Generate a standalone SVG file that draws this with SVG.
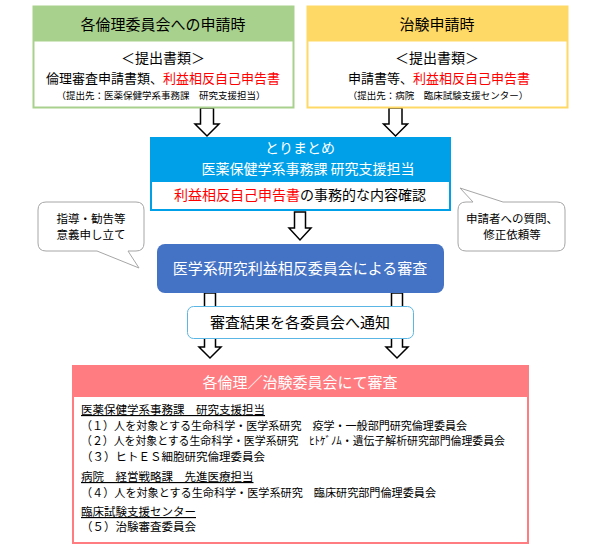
<svg xmlns="http://www.w3.org/2000/svg" width="600" height="553" viewBox="0 0 600 553">
<style>
text{font-family:"Noto Sans CJK JP","Noto Sans CJK SC",sans-serif;fill:#000}
.c{text-anchor:middle}
.w{fill:#fff}
.r{fill:#ff0000}
.h{font-size:15px}
.arrow{fill:#fff;stroke:#000;stroke-width:1.5;stroke-linejoin:miter}
.bub{fill:#fff;stroke:#a6a6a6;stroke-width:1}
.body{font-size:11.5px}
.u{text-decoration:underline}
</style>
<rect width="600" height="553" fill="#fff"/>
<g id="connectors">
<path class="arrow" d="M200.5 108H213.5V124H219L207 136L195 124H200.5Z"/>
<path class="arrow" d="M389 108H402V124H407.5L395.5 136L383.5 124H389Z"/>
<path class="arrow" d="M294.5 212H305.5V228H311L300 240L289 228H294.5Z"/>
<path class="arrow" d="M204.5 293H215.5V347H221L210 358L199 347H204.5Z"/>
<path class="arrow" d="M391.5 293H402.5V347H408L397 358L386 347H391.5Z"/>
</g>
<g id="node-ethics">
<rect x="33.5" y="6.5" width="260" height="101" fill="#fff" stroke="#a9d18e" stroke-width="2"/>
<rect x="33.5" y="6.5" width="260" height="35" fill="#a9d18e"/>
<text class="c h" x="163" y="29.5">各倫理委員会への申請時</text>
<text class="c" x="163" y="63" font-size="14">＜提出書類＞</text>
<text class="c" x="163" y="83" font-size="13">倫理審査申請書類、<tspan class="r">利益相反自己申告書</tspan></text>
<text class="c" x="161" y="99" font-size="9.5">（提出先：医薬保健学系事務課　研究支援担当）</text>
</g>
<g id="node-trial">
<rect x="307.5" y="6.5" width="260" height="101" fill="#fff" stroke="#ffd966" stroke-width="2"/>
<rect x="307.5" y="6.5" width="260" height="35" fill="#ffd966"/>
<text class="c h" x="437" y="29.5">治験申請時</text>
<text class="c" x="437" y="63" font-size="14">＜提出書類＞</text>
<text class="c" x="439" y="83" font-size="13">申請書等、<tspan class="r">利益相反自己申告書</tspan></text>
<text class="c" x="438" y="99" font-size="9.5">（提出先：病院　臨床試験支援センター）</text>
</g>
<g id="node-summary">
<rect x="150" y="137" width="301" height="74" fill="#00a0e9"/>
<rect x="152" y="182" width="297" height="27" fill="#fff"/>
<text class="c w" x="300" y="152.5" font-size="14">とりまとめ</text>
<text class="c w" x="308" y="173.5" font-size="14">医薬保健学系事務課 研究支援担当</text>
<text class="c" x="300" y="200" font-size="14"><tspan class="r">利益相反自己申告書</tspan>の事務的な内容確認</text>
</g>
<g id="node-bubble-left">
<path class="bub" d="M46 202H136Q144 202 144 210V243Q144 251 136 251H128L139 268L97 251H46Q38 251 38 243V210Q38 202 46 202Z"/>
<text class="c" x="91" y="223" font-size="11.5">指導・勧告等</text>
<text class="c" x="91" y="239" font-size="11.5">意義申し立て</text>
</g>
<g id="node-bubble-right">
<path class="bub" d="M466 202H473L460 188L503 202H557Q565 202 565 210V243Q565 251 557 251H466Q458 251 458 243V210Q458 202 466 202Z"/>
<text class="c" x="512" y="223" font-size="11.5">申請者への質問、</text>
<text class="c" x="512" y="239" font-size="11.5">修正依頼等</text>
</g>
<g id="node-committee">
<rect x="157" y="244" width="287" height="49" rx="8" fill="#4472c4"/>
<text class="c h w" x="300" y="274">医学系研究利益相反委員会による審査</text>
</g>
<g id="node-notify">
<rect x="187.5" y="306.5" width="226" height="32" rx="6" fill="#fff" stroke="#5bb6e6" stroke-width="1"/>
<text class="c h" x="300" y="328">審査結果を各委員会へ通知</text>
</g>
<g id="node-review">
<rect x="73" y="366" width="455" height="177" fill="#fff" stroke="#ff7c80" stroke-width="2"/>
<rect x="72" y="365" width="457" height="32" fill="#ff7c80"/>
<text class="c h w" x="300" y="387.5">各倫理／治験委員会にて審査</text>
<text class="body u" x="81" y="414">医薬保健学系事務課　研究支援担当</text>
<text class="body" x="81" y="430" textLength="386" lengthAdjust="spacingAndGlyphs">（１）人を対象とする生命科学・医学系研究　疫学・一般部門研究倫理委員会</text>
<text class="body" x="81" y="445" textLength="424" lengthAdjust="spacingAndGlyphs">（２）人を対象とする生命科学・医学系研究　ﾋﾄｹﾞﾉﾑ・遺伝子解析研究部門倫理委員会</text>
<text class="body" x="81" y="461">（３）ヒトＥＳ細胞研究倫理委員会</text>
<text class="body u" x="81" y="481">病院　経営戦略課　先進医療担当</text>
<text class="body" x="81" y="497" textLength="355" lengthAdjust="spacingAndGlyphs">（４）人を対象とする生命科学・医学系研究　臨床研究部門倫理委員会</text>
<text class="body u" x="81" y="516">臨床試験支援センター</text>
<text class="body" x="81" y="531">（５）治験審査委員会</text>
</g>
</svg>
